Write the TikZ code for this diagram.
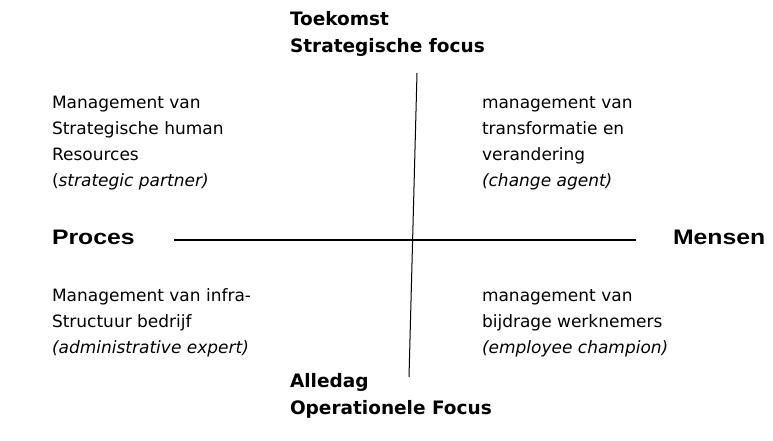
\documentclass[tikz,border=0pt]{standalone}
\usepackage{fontspec}
\setmainfont{DejaVu Sans}
\newfontfamily\axisfont{Liberation Sans}[FakeStretch=1.18]
\begin{document}
\begin{tikzpicture}[x=1pt,y=-1pt,
  every node/.style={inner sep=0pt, outer sep=0pt},
  % multi-line nodes are placed by the baseline of their last line
  role/.style={anchor=base west, align=left, font=\fontsize{17}{26}\selectfont},
  focus/.style={anchor=base west, align=left, font=\fontsize{18.5}{27}\selectfont\bfseries},
  side/.style={anchor=base west, font=\axisfont\fontsize{21}{26}\selectfont\bfseries},
  axis/.style={draw=black, line width=1.6pt},
  spine/.style={draw=black, line width=1pt}]
  \useasboundingbox (0,0) rectangle (773,440);

  % vertical axis: future/strategic versus everyday/operational
  \node[focus] (top) at (290,52) {Toekomst\\Strategische focus};
  \node[focus] (bottom) at (290,414) {Alledag\\Operationele Focus};
  % horizontal axis: process versus people
  \node[side] (proces) at (52,244) {Proces};
  \node[side] (mensen) at (673,244) {Mensen};

  \coordinate (vtop) at (417,73);
  \coordinate (vbot) at (409,377);
  \coordinate (hleft) at (174,240);
  \coordinate (hright) at (636,240);
  \draw[spine] (vtop) -- (vbot);
  \draw[axis] (hleft) -- (hright);

  % the four HR roles
  \node[role] (partner) at (52,186) {Management van\\Strategische human\\Resources\\(\textit{strategic partner)}};
  \node[role] (agent) at (482,186) {management van\\transformatie en\\verandering\\\textit{(change agent)}};
  \node[role] (expert) at (52,353) {Management van infra-\\Structuur bedrijf\\\textit{(administrative expert)}};
  \node[role] (champion) at (482,353) {management van\\bijdrage werknemers\\\textit{(employee champion)}};
\end{tikzpicture}
\end{document}
